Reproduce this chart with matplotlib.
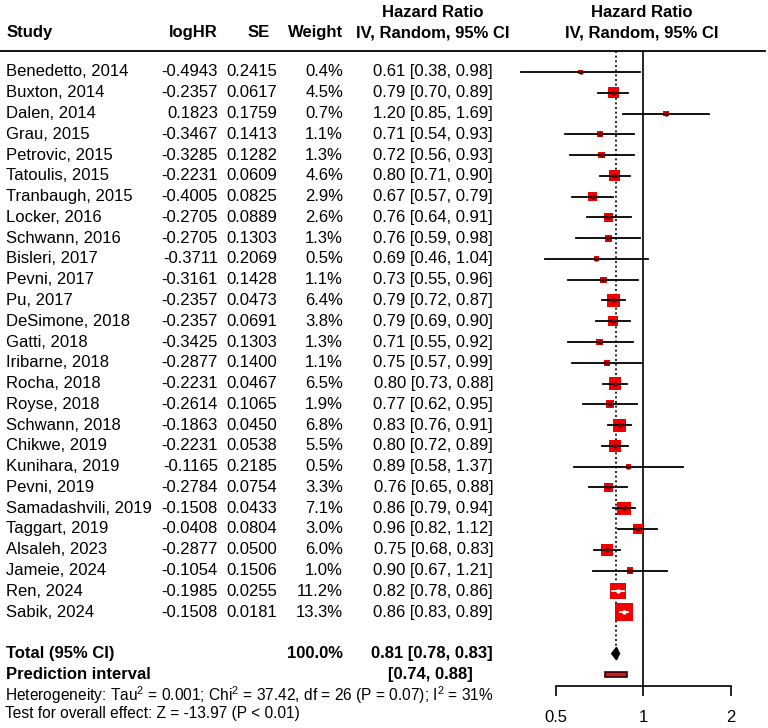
import numpy as np
import matplotlib.pyplot as plt
import matplotlib.transforms as mtransforms

plt.rcParams['font.family'] = 'Liberation Sans'
plt.rcParams['mathtext.fontset'] = 'custom'
plt.rcParams['mathtext.rm'] = 'Liberation Sans'
plt.rcParams['mathtext.it'] = 'Liberation Sans:italic'

# data
studies = ['Benedetto, 2014', 'Buxton, 2014', 'Dalen, 2014', 'Grau, 2015', 'Petrovic, 2015',
           'Tatoulis, 2015', 'Tranbaugh, 2015', 'Locker, 2016', 'Schwann, 2016', 'Bisleri, 2017',
           'Pevni, 2017', 'Pu, 2017', 'DeSimone, 2018', 'Gatti, 2018', 'Iribarne, 2018',
           'Rocha, 2018', 'Royse, 2018', 'Schwann, 2018', 'Chikwe, 2019', 'Kunihara, 2019',
           'Pevni, 2019', 'Samadashvili, 2019', 'Taggart, 2019', 'Alsaleh, 2023', 'Jameie, 2024',
           'Ren, 2024', 'Sabik, 2024']
loghr = [-0.4943, -0.2357, 0.1823, -0.3467, -0.3285, -0.2231, -0.4005, -0.2705, -0.2705, -0.3711,
         -0.3161, -0.2357, -0.2357, -0.3425, -0.2877, -0.2231, -0.2614, -0.1863, -0.2231, -0.1165,
         -0.2784, -0.1508, -0.0408, -0.2877, -0.1054, -0.1985, -0.1508]
se = [0.2415, 0.0617, 0.1759, 0.1413, 0.1282, 0.0609, 0.0825, 0.0889, 0.1303, 0.2069,
      0.1428, 0.0473, 0.0691, 0.1303, 0.1400, 0.0467, 0.1065, 0.0450, 0.0538, 0.2185,
      0.0754, 0.0433, 0.0804, 0.0500, 0.1506, 0.0255, 0.0181]
weight = [0.4, 4.5, 0.7, 1.1, 1.3, 4.6, 2.9, 2.6, 1.3, 0.5,
          1.1, 6.4, 3.8, 1.3, 1.1, 6.5, 1.9, 6.8, 5.5, 0.5,
          3.3, 7.1, 3.0, 6.0, 1.0, 11.2, 13.3]
hr = [0.61, 0.79, 1.20, 0.71, 0.72, 0.80, 0.67, 0.76, 0.76, 0.69,
      0.73, 0.79, 0.79, 0.71, 0.75, 0.80, 0.77, 0.83, 0.80, 0.89,
      0.76, 0.86, 0.96, 0.75, 0.90, 0.82, 0.86]
lo = [0.38, 0.70, 0.85, 0.54, 0.56, 0.71, 0.57, 0.64, 0.59, 0.46,
      0.55, 0.72, 0.69, 0.55, 0.57, 0.73, 0.62, 0.76, 0.72, 0.58,
      0.65, 0.79, 0.82, 0.68, 0.67, 0.78, 0.83]
hi = [0.98, 0.89, 1.69, 0.93, 0.93, 0.90, 0.79, 0.91, 0.98, 1.04,
      0.96, 0.87, 0.90, 0.92, 0.99, 0.88, 0.95, 0.91, 0.89, 1.37,
      0.88, 0.94, 1.12, 0.83, 1.21, 0.86, 0.89]
total_weight = 100.0
total_hr, total_lo, total_hi = 0.81, 0.78, 0.83
pred_lo, pred_hi = 0.74, 0.88
xticks = [0.5, 1, 2]
xticklabels = ['0.5', '1', '2']

W, H = 768, 728
fig = plt.figure(figsize=(W / 100, H / 100), dpi=100)
ax = fig.add_axes([500 / W, 42 / H, 268 / W, 635 / H])
ax.set_xscale('log')
ax.set_xlim(0.3219, 2.692)
ax.set_ylim(29.56, -1.01)

rows = np.arange(len(studies))
fs = 12
blend = mtransforms.blended_transform_factory(fig.transFigure, ax.transData)

# header
ax.text(7 / W, -1.88, 'Study', transform=blend, fontsize=fs, fontweight='bold', va='center', ha='left')
ax.text(218 / W, -1.88, 'logHR', transform=blend, fontsize=fs, fontweight='bold', va='center', ha='right')
ax.text(270 / W, -1.88, 'SE', transform=blend, fontsize=fs, fontweight='bold', va='center', ha='right')
ax.text(343 / W, -1.88, 'Weight', transform=blend, fontsize=fs, fontweight='bold', va='center', ha='right')
ax.text(433 / W, -2.86, 'Hazard Ratio', transform=blend, fontsize=fs, fontweight='bold', va='center', ha='center')
ax.text(433 / W, -1.88, 'IV, Random, 95% CI', transform=blend, fontsize=fs, fontweight='bold', va='center', ha='center')
ax.text(642 / W, -2.86, 'Hazard Ratio', transform=blend, fontsize=fs, fontweight='bold', va='center', ha='center')
ax.text(642 / W, -1.88, 'IV, Random, 95% CI', transform=blend, fontsize=fs, fontweight='bold', va='center', ha='center')
ax.plot([0, 765 / W], [-1.01, -1.01], transform=blend, color='black', lw=1.3, clip_on=False)

# study rows
for i in rows:
    ax.text(6 / W, i, studies[i], transform=blend, fontsize=fs, va='center', ha='left')
    ax.text(218 / W, i, f'{loghr[i]:.4f}', transform=blend, fontsize=fs, va='center', ha='right')
    ax.text(277 / W, i, f'{se[i]:.4f}', transform=blend, fontsize=fs, va='center', ha='right')
    ax.text(343 / W, i, f'{weight[i]:.1f}%', transform=blend, fontsize=fs, va='center', ha='right')
    ax.text(493 / W, i, f'{hr[i]:.2f} [{lo[i]:.2f}, {hi[i]:.2f}]', transform=blend,
            fontsize=fs, va='center', ha='right')

# summary rows
ax.text(6 / W, 28, 'Total (95% CI)', transform=blend, fontsize=fs, fontweight='bold', va='center')
ax.text(343 / W, 28, f'{total_weight:.1f}%', transform=blend, fontsize=fs, fontweight='bold', va='center', ha='right')
ax.text(493 / W, 28, f'{total_hr:.2f} [{total_lo:.2f}, {total_hi:.2f}]', transform=blend,
        fontsize=fs, fontweight='bold', va='center', ha='right')
ax.text(6 / W, 29, 'Prediction interval', transform=blend, fontsize=fs, fontweight='bold', va='center')
ax.text(473 / W, 29, f'[{pred_lo:.2f}, {pred_hi:.2f}]', transform=blend, fontsize=fs, fontweight='bold',
        va='center', ha='right')
ax.text(5 / W, 29.98, r'Heterogeneity: Tau$^2$ = 0.001; Chi$^2$ = 37.42, df = 26 (P = 0.07); I$^2$ = 31%',
        transform=blend, fontsize=11.2, va='center')
ax.text(5 / W, 30.9, 'Test for overall effect: Z = -13.97 (P < 0.01)', transform=blend, fontsize=11.2, va='center')

# reference lines
ax.axvline(1, color='black', lw=1.2)
ax.plot([total_hr, total_hr], [-1.01, 27.7], color='black', lw=1.2, ls=(0, (1.2, 1.6)))

# boxes, CIs and centre points
side_px = 2.0 + 4.19 * np.sqrt(weight)
side_pt = side_px * 0.72
ax.scatter(hr, rows, s=side_pt ** 2, marker='s', color='#f00000', edgecolor='none', zorder=3)
ci_px = 87.5 * np.log2(np.array(hi) / np.array(lo))
inside = ci_px < side_px
for i in rows:
    c = 'white' if inside[i] else 'black'
    ax.plot([lo[i], hi[i]], [i, i], color=c, lw=1.3, zorder=4)
    ax.plot(hr[i], i, marker='o', ms=3.2, mew=0, color='white' if inside[i] else '#6a0000', zorder=5)

# pooled diamond
ax.fill([total_lo, total_hr, total_hi, total_hr], [28, 27.7, 28, 28.3], color='black', zorder=4)
# prediction interval
ax.barh(29, pred_hi - pred_lo, left=pred_lo, height=0.22, color='#c81e1e', edgecolor='#300000', lw=1.2, zorder=4)

for s in ['top', 'left', 'right']:
    ax.spines[s].set_visible(False)
ax.spines['bottom'].set_bounds(0.5, 2)
ax.spines['bottom'].set_linewidth(1.2)
ax.set_yticks([])
ax.set_xticks(xticks)
ax.set_xticklabels(xticklabels)
ax.minorticks_off()
ax.tick_params(axis='x', direction='out', length=7.5, width=1.2, labelsize=fs, pad=10)

fig.savefig('out.png', dpi=100)
